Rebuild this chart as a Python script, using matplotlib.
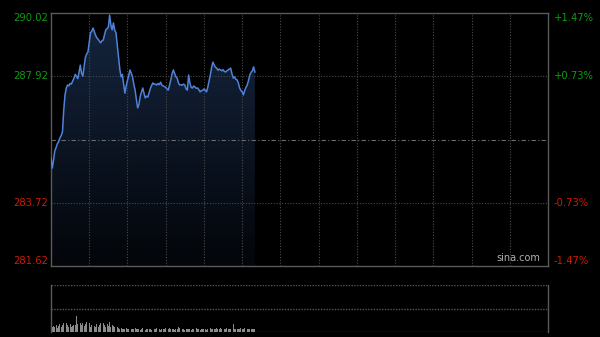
import numpy as np
import matplotlib
matplotlib.use("Agg")
import matplotlib.pyplot as plt
from matplotlib.colors import LinearSegmentedColormap

# ---- data ----
prev_close = 285.82
y_ticks = [281.62, 283.72, 287.92, 290.02]
pct_labels = ["-1.47%", "-0.73%", "+0.73%", "+1.47%"]

prices = [
    285.21, 284.87, 285.14, 285.45, 285.55, 285.68, 285.75, 285.87, 285.95, 286.07,
    286.80, 287.30, 287.53, 287.63, 287.60, 287.68, 287.66, 287.76, 287.85, 287.98,
    287.92, 287.84, 288.05, 288.29, 288.02, 287.92, 288.25, 288.55, 288.66, 288.73,
    289.05, 289.36, 289.42, 289.52, 289.40, 289.28, 289.19, 289.15, 289.08, 289.03,
    289.10, 289.12, 289.30, 289.46, 289.50, 289.55, 289.95, 289.62, 289.46, 289.69,
    289.45, 289.36, 288.95, 288.55, 288.15, 287.90, 287.98, 287.65, 287.36, 287.60,
    287.78, 287.95, 288.13, 288.02, 287.90, 287.65, 287.46, 287.15, 286.87, 286.98,
    287.25, 287.40, 287.53, 287.35, 287.20, 287.26, 287.23, 287.38, 287.52, 287.62,
    287.70, 287.65, 287.66, 287.63, 287.68, 287.64, 287.72, 287.62, 287.60, 287.58,
    287.55, 287.50, 287.46, 287.62, 287.80, 288.00, 288.13, 288.02, 287.90, 287.86,
    287.70, 287.63, 287.64, 287.62, 287.66, 287.63, 287.50, 287.46, 287.96, 287.70,
    287.55, 287.53, 287.60, 287.56, 287.52, 287.53, 287.48, 287.40, 287.44, 287.45,
    287.50, 287.46, 287.40, 287.55, 287.75, 287.96, 288.20, 288.39, 288.30, 288.22,
    288.19, 288.12, 288.16, 288.13, 288.10, 288.14, 288.08, 288.06, 288.10, 288.13,
    288.16, 288.19, 288.00, 287.86, 287.90, 287.82, 287.80, 287.70, 287.53, 287.45,
    287.40, 287.30, 287.45, 287.55, 287.63, 287.78, 287.96, 288.05, 288.10, 288.23,
    288.06,
]

volumes = [
    60, 35, 40, 30, 45, 25, 40, 50, 35, 45,
    55, 40, 60, 45, 35, 50, 30, 40, 45, 45,
    100, 50, 40, 55, 45, 60, 40, 50, 65, 45,
    55, 35, 45, 60, 40, 30, 50, 35, 45, 55,
    40, 60, 45, 35, 50, 40, 65, 30, 45, 40,
    35, 45, 30, 25, 20, 25, 18, 22, 20, 25,
    18, 20, 30, 22, 18, 20, 25, 18, 20, 22,
    15, 18, 25, 20, 15, 18, 22, 20, 18, 15,
    20, 18, 22, 25, 18, 20, 15, 22, 18, 20,
    25, 20, 18, 25, 22, 18, 20, 15, 18, 22,
    30, 25, 18, 22, 20, 15, 18, 20, 22, 18,
    15, 20, 18, 22, 25, 18, 20, 15, 22, 18,
    20, 18, 15, 22, 20, 25, 18, 20, 22, 18,
    25, 20, 18, 25, 22, 20, 18, 22, 25, 20,
    18, 22, 20, 50, 18, 20, 22, 18, 20, 25,
    22, 20, 25, 18, 20, 22, 18, 20, 22, 18,
    20,
]

minutes = np.arange(len(prices))
total_minutes = 390
ymin, ymax = 281.62, 290.02

# ---- figure ----
fig = plt.figure(figsize=(6.0, 3.37), dpi=100, facecolor="black")
ax = fig.add_axes([51/600, 71/337, 497/600, 253/337], facecolor="black")
axv = fig.add_axes([51/600, 5/337, 497/600, 47/337], facecolor="black")

ax.set_xlim(0, total_minutes)
ax.set_ylim(ymin, ymax)

grid_c = "#4a4a4a"
for xv in range(30, total_minutes, 30):
    ax.axvline(xv, color=grid_c, lw=0.8, ls=(0, (1, 1.5)), zorder=2.5)
for yv in (283.72, 287.92):
    ax.axhline(yv, color=grid_c, lw=0.8, ls=(0, (1, 1.5)), zorder=2.5)
ax.axhline(prev_close, color="#6a6a6a", lw=0.8, ls=(0, (4, 2, 1, 2)), zorder=2.5)

# gradient fill under the line
poly = ax.fill_between(minutes, prices, ymin, color="none", lw=0)
cmap = LinearSegmentedColormap.from_list("g", ["#030509", "#15253f"])
grad = np.linspace(0, 1, 256).reshape(-1, 1)
im = ax.imshow(grad, cmap=cmap, aspect="auto", origin="lower",
               extent=[0, minutes[-1], ymin, ymax], zorder=2)
im.set_clip_path(poly.get_paths()[0], transform=ax.transData)
ax.plot(minutes, prices, color="#4f82d8", lw=1.1, zorder=3)

for s in ax.spines.values():
    s.set_color("#5a5a5a")
    s.set_linewidth(1.0)
ax.set_xticks([])
ax.set_yticks([])

green = "#119911"
red = "#cc1a00"
fs = 7.2
for yv, lab in zip(y_ticks, pct_labels):
    col = green if yv > prev_close else red
    va = "center"
    if yv == ymax:
        va = "top"
    elif yv == ymin:
        va = "bottom"
    ax.text(-0.006, yv, f"{yv:.2f}", transform=ax.get_yaxis_transform(),
            ha="right", va=va, color=col, fontsize=fs)
    ax.text(1.012, yv, lab, transform=ax.get_yaxis_transform(),
            ha="left", va=va, color=col, fontsize=fs)

ax.text(0.984, 0.012, "sina.com", transform=ax.transAxes, ha="right",
        va="bottom", color="#b0b0b0", fontsize=7)

# ---- volume ----
axv.set_xlim(0, total_minutes)
vmax = 300
axv.set_ylim(0, vmax)
axv.bar(minutes, volumes, width=0.7, color="#8a8a8a", lw=0, zorder=2)
for yv in (0, vmax / 2, vmax):
    axv.axhline(yv, color="#555555", lw=1.0, ls=(0, (1, 1)), zorder=1)
for k in ("top", "bottom"):
    axv.spines[k].set_visible(False)
for k in ("left", "right"):
    axv.spines[k].set_color("#5a5a5a")
    axv.spines[k].set_linewidth(1.0)
axv.set_xticks([])
axv.set_yticks([])

fig.savefig("out.png", dpi=100, facecolor="black")
